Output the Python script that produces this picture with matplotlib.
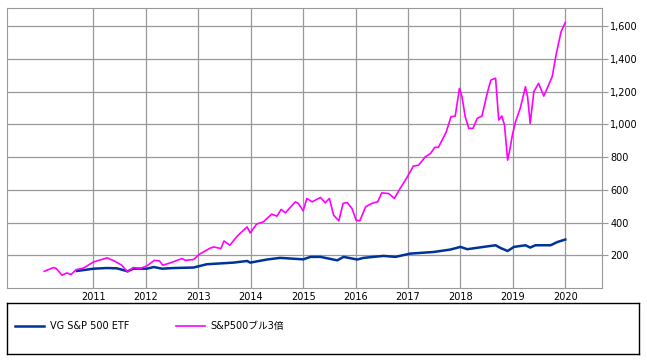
import matplotlib
matplotlib.use('Agg')
from matplotlib import pyplot as plt
from matplotlib.ticker import FuncFormatter

plt.rcParams['font.family'] = ['DejaVu Sans', 'Noto Sans CJK JP']

# S&P500ブル3倍 (date as fractional year, value)
bull_x = [2010.06, 2010.24, 2010.29, 2010.40, 2010.49, 2010.57, 2010.67, 2010.81,
          2011.00, 2011.26, 2011.41, 2011.54, 2011.65, 2011.76, 2011.89, 2012.02,
          2012.16, 2012.26, 2012.32, 2012.46, 2012.69, 2012.75, 2012.91, 2013.02,
          2013.21, 2013.29, 2013.43, 2013.49, 2013.60, 2013.74, 2013.93, 2013.99,
          2014.11, 2014.24, 2014.40, 2014.50, 2014.58, 2014.66, 2014.85, 2014.91,
          2015.00, 2015.07, 2015.17, 2015.33, 2015.42, 2015.50, 2015.58, 2015.68,
          2015.76, 2015.84, 2015.93, 2016.01, 2016.08, 2016.19, 2016.28, 2016.34,
          2016.42, 2016.50, 2016.63, 2016.74, 2016.85, 2016.98, 2017.10, 2017.20,
          2017.33, 2017.43, 2017.51, 2017.58, 2017.73, 2017.82, 2017.90, 2017.98,
          2018.03, 2018.09, 2018.16, 2018.24, 2018.32, 2018.41, 2018.51, 2018.58,
          2018.67, 2018.73, 2018.79, 2018.84, 2018.90, 2018.94, 2018.99, 2019.05,
          2019.14, 2019.24, 2019.28, 2019.33, 2019.40, 2019.49, 2019.59, 2019.75,
          2019.83, 2019.92, 2020.00]
bull_y = [102, 125, 119, 78, 92, 82, 112, 122,
          159, 184, 163, 139, 98, 125, 119, 135,
          169, 165, 139, 153, 180, 169, 174, 206,
          241, 251, 241, 287, 261, 316, 373, 336,
          390, 404, 451, 439, 480, 459, 526, 516,
          471, 547, 526, 553, 520, 547, 445, 410,
          516, 522, 486, 414, 410, 495, 512, 520,
          526, 581, 577, 547, 608, 675, 744, 750,
          801, 822, 859, 859, 954, 1046, 1050, 1219,
          1168, 1046, 975, 975, 1036, 1050, 1189, 1270,
          1281, 1026, 1050, 995, 781, 842, 934, 1015,
          1097, 1229, 1168, 1005, 1199, 1250, 1172, 1291,
          1434, 1566, 1621]

# VG S&P 500 ETF
vg_x = [2010.68, 2010.87, 2011.00, 2011.26, 2011.45, 2011.65, 2011.76, 2012.02,
        2012.15, 2012.31, 2012.53, 2012.91, 2013.16, 2013.67, 2013.93, 2013.99,
        2014.31, 2014.56, 2015.00, 2015.14, 2015.33, 2015.65, 2015.77, 2016.03,
        2016.15, 2016.53, 2016.76, 2017.04, 2017.49, 2017.81, 2018.00, 2018.13,
        2018.44, 2018.67, 2018.76, 2018.90, 2019.02, 2019.24, 2019.33, 2019.43,
        2019.72, 2019.85, 2020.00]
vg_y = [104, 112, 118, 122, 120, 102, 118, 118,
        128, 118, 122, 125, 145, 155, 165, 155,
        174, 184, 175, 190, 190, 169, 190, 174,
        184, 196, 190, 210, 220, 235, 251, 237,
        251, 261, 245, 226, 251, 261, 247, 261,
        261, 281, 296]

years = list(range(2011, 2021))
yticks = [200, 400, 600, 800, 1000, 1200, 1400, 1600]

W, H = 647, 361
fig = plt.figure(figsize=(W / 100, H / 100), dpi=100)
ax = fig.add_axes([7 / W, 1 - 288 / H, 595 / W, 280 / H])

l1, = ax.plot(vg_x, vg_y, color='#003399', lw=1.8, label='VG S&P 500 ETF')
l2, = ax.plot(bull_x, bull_y, color='#ff00ff', lw=1.2, label='S&P500ブル3倍')

ax.set_xlim(2009.35, 2020.70)
ax.set_ylim(0, 1710)
ax.set_xticks(years)
ax.set_xticklabels([str(y) for y in years])
ax.set_yticks(yticks)
ax.yaxis.set_major_formatter(FuncFormatter(lambda v, p: '{:,.0f}'.format(v)))
ax.yaxis.tick_right()
ax.grid(True, color='#999999', lw=0.9)
ax.set_axisbelow(True)
for s in ax.spines.values():
    s.set_color('#999999')
ax.tick_params(axis='x', length=0, labelsize=7, pad=3)
ax.tick_params(axis='y', length=4, color='#999999', labelsize=7, pad=2)

# legend box
lax = fig.add_axes([7 / W, 1 - 354 / H, 632 / W, 51 / H])
lax.set_xticks([])
lax.set_yticks([])
for s in lax.spines.values():
    s.set_color('black')
    s.set_linewidth(1)
lax.legend(handles=[l1, l2], loc='center left', ncol=2, frameon=False,
           fontsize=7, handlelength=3.0, handletextpad=0.6, columnspacing=4.8,
           bbox_to_anchor=(0.0, 0.55), borderaxespad=0.4)

fig.savefig('out.png', dpi=100)
